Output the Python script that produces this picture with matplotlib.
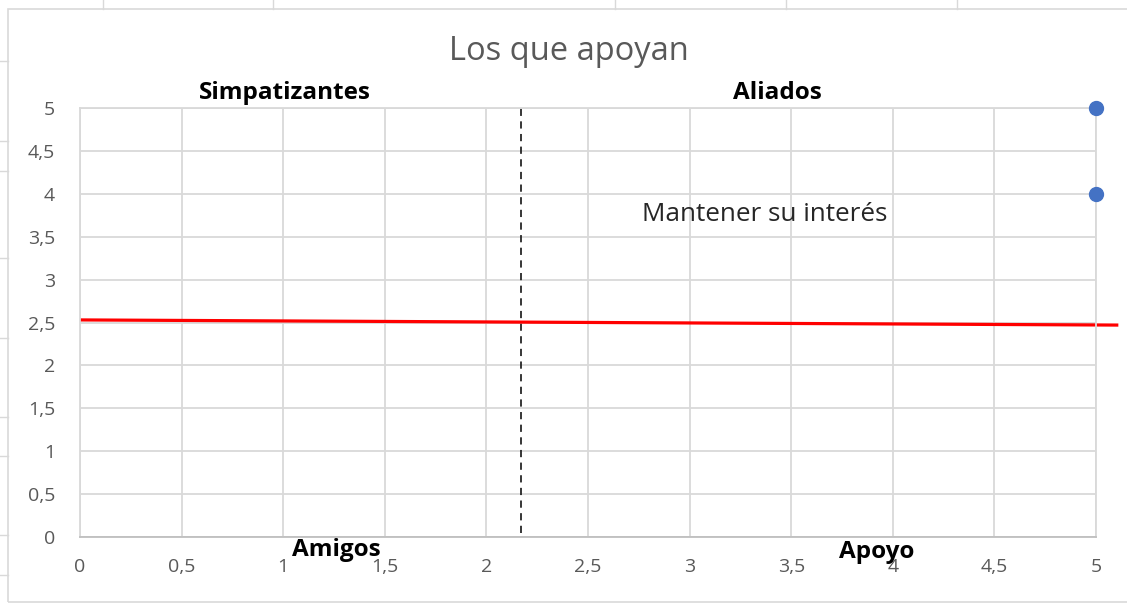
import numpy as np
import matplotlib.pyplot as plt
from matplotlib.lines import Line2D
from matplotlib.patches import Rectangle
from matplotlib.ticker import FuncFormatter

plt.rcParams["font.family"] = ["Open Sans", "DejaVu Sans"]

# stakeholders plotted (interest vs. support)
px = [5, 5]
py = [5, 4]

# linear trend over the points, extended a little past the axis
trend_x = [0, 5.11]
trend_y = [2.53, 2.47]

# quadrant divider
split_x = 2.17

xticks = np.arange(0, 5.01, 0.5)
yticks = np.arange(0, 5.01, 0.5)

GRID = "#d9d9d9"
TXT = "#595959"

W, H = 1127, 603
fig = plt.figure(figsize=(W / 100, H / 100), dpi=100)

# sheet cell borders peeking around the chart object
for xp in [103, 273, 615, 786, 957]:
    fig.add_artist(Line2D([xp / W, xp / W], [1 - 9 / H, 1.0], color=GRID, lw=1))
for yp in [61, 141, 171, 258, 338, 417, 456, 535, 575]:
    fig.add_artist(Line2D([0, 8 / W], [1 - yp / H, 1 - yp / H], color=GRID, lw=1))

# chart area border
fig.add_artist(Rectangle((8 / W, 1 - 602 / H), (W + 10) / W, (602 - 9) / H,
                         transform=fig.transFigure, fill=False,
                         edgecolor=GRID, lw=1.2))

ax = fig.add_axes([80 / W, 1 - 537 / H, (1096 - 80) / W, (537 - 108) / H])
ax.set_xlim(0, 5)
ax.set_ylim(0, 5)
ax.set_xticks(xticks)
ax.set_yticks(yticks)
fmt = FuncFormatter(lambda v, _: f"{v:g}".replace(".", ","))
ax.xaxis.set_major_formatter(fmt)
ax.yaxis.set_major_formatter(fmt)
ax.tick_params(length=0, labelsize=14, labelcolor=TXT)
ax.tick_params(axis="x", pad=15)
ax.tick_params(axis="y", pad=18)
ax.grid(True, color=GRID, lw=1.3)
ax.set_axisbelow(True)
for s in ax.spines.values():
    s.set_color(GRID)
    s.set_linewidth(1.3)
ax.spines["bottom"].set_color("#bfbfbf")

ax.vlines(split_x, 0.05, 5, colors="#262626", linestyles=(0, (4, 3)), lw=1.3)
ax.plot(trend_x, trend_y, color="#ff0000", lw=2.3, clip_on=False,
        solid_capstyle="butt")
ax.plot(px, py, "o", color="#4472c4", ms=10, clip_on=False, zorder=5)

fig.text(569 / W, 1 - 52 / H, "Los que apoyan", ha="center", va="center",
         fontsize=23.5, color=TXT)

bold = dict(ha="center", va="center", fontsize=17.5, fontweight="bold",
            color="black", clip_on=False)
ax.text(1.01, 5.17, "Simpatizantes", **bold)
ax.text(3.43, 5.17, "Aliados", **bold)
ax.text(1.26, -0.15, "Amigos", **bold)
ax.text(3.92, -0.18, "Apoyo", **bold)
ax.text(3.37, 3.76, "Mantener su interés", ha="center", va="center",
        fontsize=18.8, color="#262626")

fig.savefig("out.png", dpi=100, facecolor="white")
